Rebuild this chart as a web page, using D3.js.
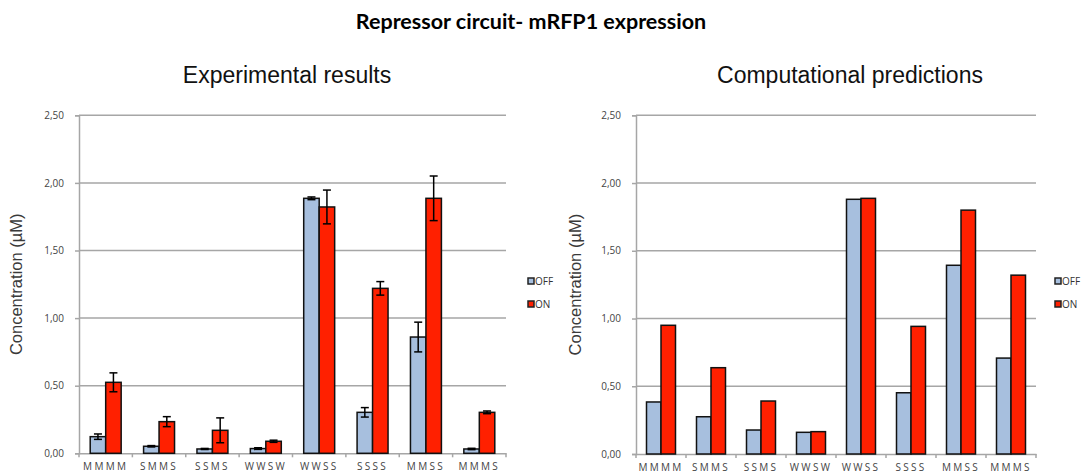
<!DOCTYPE html>
<html>
<head>
<meta charset="utf-8">
<script src="https://d3js.org/d3.v7.min.js"></script>
<style>
  body { margin: 0; background: #fff; }
  svg { display: block; }
</style>
</head>
<body>
<svg id="main_graph" width="1081" height="475"></svg>
<script>

// categories (promoter strength combos)
var categories = ["MMMM", "SMMS", "SSMS", "WWSW", "WWSS", "SSSS", "MMSS", "MMMS"];
var seriesNames = ["OFF", "ON"];
var yTicks = [0, 0.5, 1, 1.5, 2, 2.5];

// experimental results
var expOff    = [0.123, 0.052, 0.032, 0.035, 1.886, 0.303, 0.860, 0.032];
var expOn     = [0.525, 0.234, 0.170, 0.089, 1.822, 1.220, 1.886, 0.303];
var expOffErr = [0.020, 0.005, 0.004, 0.006, 0.010, 0.035, 0.110, 0.005];
var expOnErr  = [0.070, 0.037, 0.092, 0.008, 0.125, 0.050, 0.165, 0.010];

// computational predictions
var compOff = [0.384, 0.275, 0.177, 0.160, 1.880, 0.452, 1.393, 0.708];
var compOn  = [0.950, 0.637, 0.391, 0.165, 1.887, 0.942, 1.800, 1.320];

var colors = {"OFF": "#a7bfde", "ON": "#ff2000"};
var fmt = function(v) { return d3.format(".2f")(v).replace(".", ","); };

var svg = d3.select("svg");

svg.append("text")
    .attr("x", 531).attr("y", 29)
    .attr("text-anchor", "middle")
    .attr("font-family", "Lato, 'Open Sans', sans-serif")
    .attr("font-weight", "bold")
    .attr("font-size", 21.5)
    .attr("fill", "#000")
    .text("Repressor circuit- mRFP1 expression");

function drawPanel(p) {
  var x = d3.scaleBand().domain(categories).range([p.left, p.right]);
  var x1 = d3.scaleBand().domain(seriesNames)
      .range([x.bandwidth() * 0.21, x.bandwidth() * 0.79]);
  var y = d3.scaleLinear().domain([0, 2.5]).range([p.bottom, p.top]);

  var g = svg.append("g");

  g.append("text")
      .attr("x", p.titleX).attr("y", 83)
      .attr("text-anchor", "middle")
      .attr("font-family", "'Liberation Sans', Arial, sans-serif")
      .attr("font-size", 23)
      .attr("fill", "#111")
      .text(p.title);

  // gridlines
  g.append("g")
    .selectAll("line")
    .data(yTicks.slice(1))
    .enter().append("line")
      .attr("x1", p.left).attr("x2", p.right)
      .attr("y1", function(d) { return y(d); })
      .attr("y2", function(d) { return y(d); })
      .attr("stroke", "#a6a6a6")
      .attr("stroke-width", 1.5);

  // y axis
  var yAxis = g.append("g")
      .attr("transform", "translate(" + p.left + ",0)")
      .call(d3.axisLeft(y).tickValues(yTicks).tickFormat(fmt).tickSize(4).tickPadding(11));
  yAxis.select(".domain").attr("stroke", "#a6a6a6").attr("stroke-width", 1.5);
  yAxis.selectAll(".tick line").attr("stroke", "#a6a6a6").attr("stroke-width", 1.5);
  yAxis.selectAll(".tick text")
      .attr("font-family", "'Open Sans', sans-serif")
      .attr("font-size", 10)
      .attr("fill", "#444");

  // x axis
  var xAxis = g.append("g")
      .attr("transform", "translate(0," + p.bottom + ")")
      .call(d3.axisBottom(x).tickSize(0).tickPadding(10));
  xAxis.select(".domain").attr("stroke", "#a6a6a6").attr("stroke-width", 1.5);
  xAxis.selectAll(".tick text")
      .attr("font-family", "'Open Sans', sans-serif")
      .attr("font-size", 10)
      .attr("letter-spacing", "2.3px")
      .attr("fill", "#444");
  // category separator ticks
  g.append("g")
    .selectAll("line")
    .data(categories.concat(["end"]))
    .enter().append("line")
      .attr("x1", function(d, i) { return p.left + i * x.step(); })
      .attr("x2", function(d, i) { return p.left + i * x.step(); })
      .attr("y1", p.bottom).attr("y2", p.bottom + 4)
      .attr("stroke", "#a6a6a6")
      .attr("stroke-width", 1.5);

  g.append("text")
      .attr("transform", "translate(" + p.labelX + "," + ((p.top + p.bottom) / 2) + ") rotate(-90)")
      .attr("text-anchor", "middle")
      .attr("font-family", "'Liberation Sans', Arial, sans-serif")
      .attr("font-size", 16.5)
      .attr("fill", "#3a3a3a")
      .text("Concentration (\u00b5M)");

  var rows = categories.map(function(c, i) {
    return {cat: c, vals: [
      {key: "OFF", v: p.off[i], e: p.offErr ? p.offErr[i] : null},
      {key: "ON",  v: p.on[i],  e: p.onErr  ? p.onErr[i]  : null}
    ]};
  });

  var groups = g.selectAll(".grp")
    .data(rows)
    .enter().append("g")
      .attr("class", "grp")
      .attr("transform", function(d) { return "translate(" + x(d.cat) + ",0)"; });

  groups.selectAll("rect")
    .data(function(d) { return d.vals; })
    .enter().append("rect")
      .attr("x", function(d) { return x1(d.key); })
      .attr("width", x1.bandwidth())
      .attr("y", function(d) { return y(d.v); })
      .attr("height", function(d) { return y(0) - y(d.v); })
      .attr("fill", function(d) { return colors[d.key]; })
      .attr("stroke", "#111")
      .attr("stroke-width", 1.5);

  if (p.offErr) {
    var eb = groups.selectAll(".err")
      .data(function(d) { return d.vals; })
      .enter().append("g")
        .attr("class", "err")
        .attr("stroke", "#000")
        .attr("stroke-width", 1.5);
    eb.append("line")
        .attr("x1", function(d) { return x1(d.key) + x1.bandwidth() / 2; })
        .attr("x2", function(d) { return x1(d.key) + x1.bandwidth() / 2; })
        .attr("y1", function(d) { return y(d.v + d.e); })
        .attr("y2", function(d) { return y(d.v - d.e); });
    [1, -1].forEach(function(s) {
      eb.append("line")
          .attr("x1", function(d) { return x1(d.key) + x1.bandwidth() / 2 - 4; })
          .attr("x2", function(d) { return x1(d.key) + x1.bandwidth() / 2 + 4; })
          .attr("y1", function(d) { return y(d.v + s * d.e); })
          .attr("y2", function(d) { return y(d.v + s * d.e); });
    });
  }

  // legend
  var lg = g.append("g")
    .selectAll("g")
    .data(seriesNames)
    .enter().append("g")
      .attr("transform", function(d, i) { return "translate(" + p.legendX + "," + (278 + i * 23) + ")"; });
  lg.append("rect")
      .attr("width", 6).attr("height", 6)
      .attr("fill", function(d) { return colors[d]; })
      .attr("stroke", "#222")
      .attr("stroke-width", 1.5);
  lg.append("text")
      .attr("x", 7).attr("y", 7)
      .attr("font-family", "'Open Sans', sans-serif")
      .attr("font-size", 10)
      .attr("fill", "#333")
      .text(function(d) { return d; });
}

drawPanel({
  title: "Experimental results", titleX: 287,
  left: 79, right: 506, top: 115.3, bottom: 453.3,
  labelX: 22, legendX: 528,
  off: expOff, on: expOn, offErr: expOffErr, onErr: expOnErr
});

drawPanel({
  title: "Computational predictions", titleX: 850,
  left: 636, right: 1036, top: 115.3, bottom: 454,
  labelX: 581, legendX: 1055,
  off: compOff, on: compOn
});

</script>
</body>
</html>
